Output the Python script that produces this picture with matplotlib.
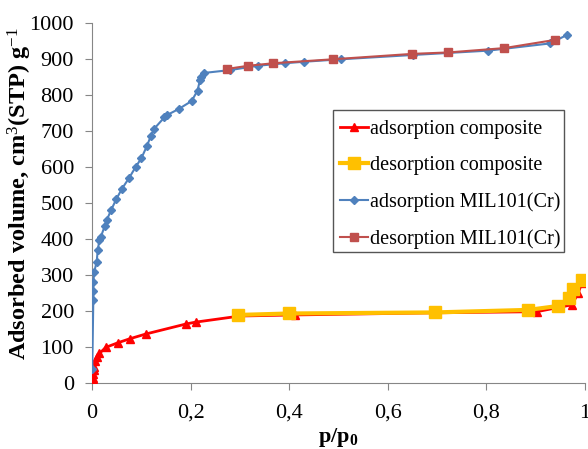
import numpy as np
import matplotlib
matplotlib.use("Agg")
import matplotlib.pyplot as plt
from matplotlib.patches import Rectangle
from matplotlib.ticker import FuncFormatter

# adsorption composite
ads_comp_x = [0.001, 0.0015, 0.002, 0.0025, 0.003, 0.004, 0.006, 0.0095, 0.015, 0.028, 0.053,
              0.077, 0.109, 0.191, 0.210, 0.300, 0.412, 0.700, 0.902, 0.973, 0.986, 0.993]
ads_comp_y = [2, 8, 15, 25, 35, 45, 60, 73, 82, 99, 112, 123, 136, 164, 169, 186, 189, 195,
              198, 217, 249, 277]
# desorption composite
des_comp_x = [0.297, 0.400, 0.696, 0.885, 0.946, 0.968, 0.976, 0.993]
des_comp_y = [189, 193, 196, 203, 214, 235, 260, 286]
# adsorption MIL101(Cr)
ads_mil_x = [0.0005, 0.0026, 0.0026, 0.0026, 0.0046, 0.0095, 0.0116, 0.015, 0.018, 0.026,
             0.030, 0.039, 0.049, 0.061, 0.075, 0.089, 0.100, 0.111, 0.119, 0.126, 0.147,
             0.152, 0.176, 0.202, 0.214, 0.219, 0.222, 0.227, 0.280, 0.336, 0.391, 0.429,
             0.505, 0.652, 0.804, 0.929, 0.964]
ads_mil_y = [40, 230, 255, 281, 309, 337, 369, 397, 406, 437, 453, 481, 510, 540, 569, 601,
             624, 657, 685, 706, 738, 744, 761, 783, 812, 842, 851, 861, 869, 881, 888, 892,
             899, 911, 923, 943, 967]
# desorption MIL101(Cr)
des_mil_x = [0.273, 0.317, 0.368, 0.489, 0.650, 0.723, 0.836, 0.940]
des_mil_y = [872, 881, 888, 899, 914, 918, 930, 953]

serif = ["Liberation Serif", "DejaVu Serif"]
plt.rcParams["font.family"] = serif
plt.rcParams["mathtext.fontset"] = "custom"
plt.rcParams["mathtext.rm"] = "Liberation Serif"
plt.rcParams["mathtext.it"] = "Liberation Serif:italic"
plt.rcParams["mathtext.bf"] = "Liberation Serif:bold"

fig = plt.figure(figsize=(5.88, 4.49), dpi=100)
ax = fig.add_axes([0.1565, 0.147, 0.8385, 0.802])

ax.plot(ads_comp_x, ads_comp_y, color="#FF0000", lw=2, marker="^", ms=6,
        label="adsorption composite", zorder=3)
ax.plot(des_comp_x, des_comp_y, color="#FFC000", lw=3, marker="s", ms=9,
        label="desorption composite", zorder=4)
ax.plot(ads_mil_x, ads_mil_y, color="#4F81BD", lw=1.5, marker="D", ms=3.8,
        label="adsorption MIL101(Cr)", zorder=3)
ax.plot(des_mil_x, des_mil_y, color="#C0504D", lw=1.5, marker="s", ms=6,
        label="desorption MIL101(Cr)", zorder=4)

ax.set_xlim(0, 1)
ax.set_ylim(0, 1000)
ax.set_xticks(np.arange(0, 1.01, 0.2))
ax.set_yticks(np.arange(0, 1001, 100))
ax.xaxis.set_major_formatter(FuncFormatter(lambda v, p: ("%g" % round(v, 1)).replace(".", ",")))
ax.tick_params(labelsize=16, direction="out", length=5, color="#868686")
ax.tick_params(axis="x", pad=10)
ax.tick_params(axis="y", pad=8)
for s in ["top", "right"]:
    ax.spines[s].set_visible(False)
for s in ["left", "bottom"]:
    ax.spines[s].set_color("#868686")

ax.set_ylabel("Adsorbed volume, cm$^3$(STP) g$^{-1}$", fontsize=17.5, fontweight="bold")
ax.yaxis.set_label_coords(-0.118, 0.526)
ax.set_xlabel("p/p$_\\mathbf{0}$", fontsize=16, fontweight="bold", labelpad=2)

# legend box drawn by hand so the text can sit close to the right edge, like the original
ax.add_patch(Rectangle((0.489, 0.364), 0.468, 0.394, transform=ax.transAxes,
                       facecolor="white", edgecolor="#555555", lw=1, zorder=5))
leg = ax.legend(loc="upper left", bbox_to_anchor=(0.483, 0.758), fontsize=14.5,
                frameon=False, handlelength=1.4, handletextpad=0.1, borderpad=0.5,
                labelspacing=0.85, borderaxespad=0)
leg.set_zorder(6)

fig.savefig("out.png", dpi=100)
